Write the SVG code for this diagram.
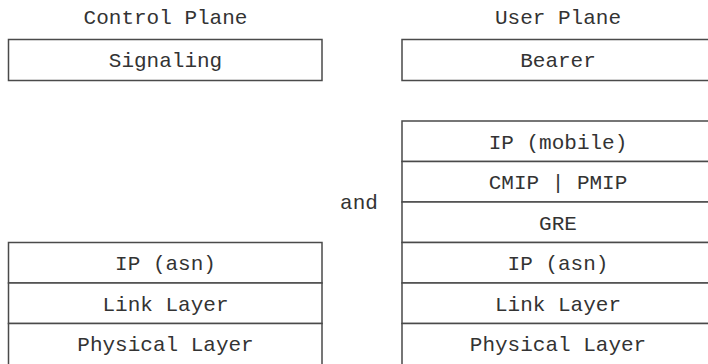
<svg xmlns="http://www.w3.org/2000/svg" width="708" height="364" viewBox="0 0 708 364">
<style>
  .box { fill: #fff; stroke: #4a4a4a; stroke-width: 1.5; }
  text { font-family: "Liberation Mono", "DejaVu Sans Mono", monospace; font-size: 21px; fill: #333; text-anchor: middle; }
</style>
<rect width="708" height="364" fill="#fff"/>
<g id="title-control"><text x="165.5" y="24">Control Plane</text></g>
<g id="title-user"><text x="558" y="24">User Plane</text></g>
<g id="signaling"><rect class="box" x="8.5" y="39.5" width="313.5" height="41"/><text x="165.5" y="67">Signaling</text></g>
<g id="bearer"><rect class="box" x="402" y="39.5" width="312" height="41"/><text x="558" y="67">Bearer</text></g>
<g id="ip-asn-left"><rect class="box" x="8.5" y="242.5" width="313.5" height="40.5"/><text x="165.5" y="270">IP (asn)</text></g>
<g id="link-left"><rect class="box" x="8.5" y="283" width="313.5" height="40.5"/><text x="165.5" y="310.5">Link Layer</text></g>
<g id="phys-left"><rect class="box" x="8.5" y="323.5" width="313.5" height="45"/><text x="165.5" y="351">Physical Layer</text></g>
<g id="and"><text x="359" y="209">and</text></g>
<g id="ip-mobile"><rect class="box" x="402" y="121" width="312" height="40.5"/><text x="558" y="148.5">IP (mobile)</text></g>
<g id="cmip-pmip"><rect class="box" x="402" y="161.5" width="312" height="40.5"/><text x="558" y="189">CMIP | PMIP</text></g>
<g id="gre"><rect class="box" x="402" y="202" width="312" height="40.5"/><text x="558" y="229.5">GRE</text></g>
<g id="ip-asn-right"><rect class="box" x="402" y="242.5" width="312" height="40.5"/><text x="558" y="270">IP (asn)</text></g>
<g id="link-right"><rect class="box" x="402" y="283" width="312" height="40.5"/><text x="558" y="310.5">Link Layer</text></g>
<g id="phys-right"><rect class="box" x="402" y="323.5" width="312" height="45"/><text x="558" y="351">Physical Layer</text></g>
<g id="connectors"></g>
</svg>
